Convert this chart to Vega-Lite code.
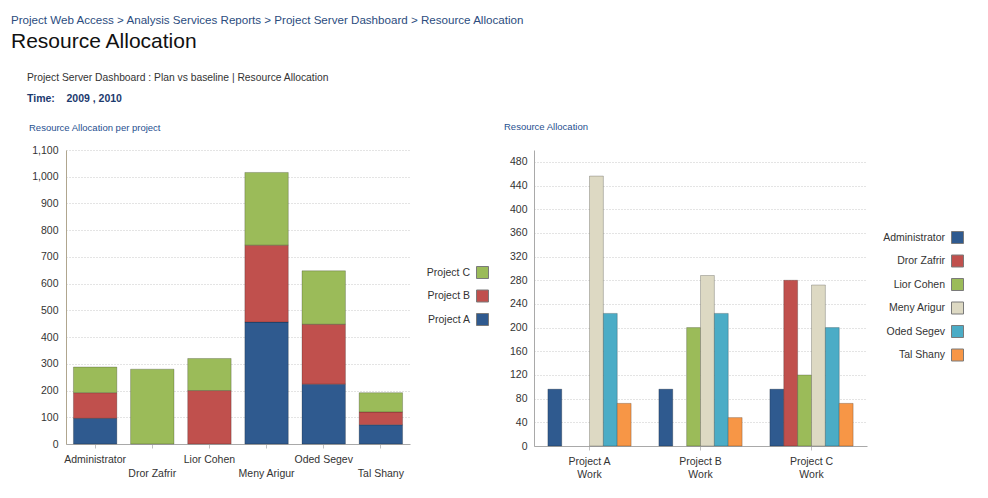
{
  "$schema": "https://vega.github.io/schema/vega-lite/v6.json",
  "background": "white",
  "padding": {"left": 11, "top": 15, "right": 5, "bottom": 5},
  "datasets": {
    "alloc": [
      {"resource": "Administrator", "project": "Project A", "hours": 96},
      {"resource": "Administrator", "project": "Project B", "hours": 96},
      {"resource": "Administrator", "project": "Project C", "hours": 96},
      {"resource": "Dror Zafrir", "project": "Project A", "hours": 0},
      {"resource": "Dror Zafrir", "project": "Project B", "hours": 0},
      {"resource": "Dror Zafrir", "project": "Project C", "hours": 280},
      {"resource": "Lior Cohen", "project": "Project A", "hours": 0},
      {"resource": "Lior Cohen", "project": "Project B", "hours": 200},
      {"resource": "Lior Cohen", "project": "Project C", "hours": 120},
      {"resource": "Meny Arigur", "project": "Project A", "hours": 456},
      {"resource": "Meny Arigur", "project": "Project B", "hours": 288},
      {"resource": "Meny Arigur", "project": "Project C", "hours": 272},
      {"resource": "Oded Segev", "project": "Project A", "hours": 224},
      {"resource": "Oded Segev", "project": "Project B", "hours": 224},
      {"resource": "Oded Segev", "project": "Project C", "hours": 200},
      {"resource": "Tal Shany", "project": "Project A", "hours": 72},
      {"resource": "Tal Shany", "project": "Project B", "hours": 48},
      {"resource": "Tal Shany", "project": "Project C", "hours": 72}
    ]
  },
  "title": {
    "text": "Project Web Access > Analysis Services Reports > Project Server Dashboard > Resource Allocation",
    "subtitle": "Resource Allocation",
    "anchor": "start",
    "frame": "bounds",
    "font": "Liberation Sans",
    "fontSize": 11.6,
    "fontWeight": "normal",
    "color": "#2b4c7e",
    "subtitleFont": "Liberation Sans",
    "subtitleFontSize": 21,
    "subtitleColor": "#111111",
    "subtitlePadding": 4,
    "offset": 21
  },
  "config": {
    "view": {"stroke": null},
    "font": "Liberation Sans",
    "axis": {
      "labelFont": "Liberation Sans",
      "labelFontSize": 10.5,
      "labelColor": "#333333",
      "title": null,
      "gridColor": "#c8c8c8",
      "gridDash": [1, 2],
      "domainColor": "#a9a9a9",
      "tickColor": "#c0c0c0"
    },
    "legend": {
      "labelFont": "Liberation Sans",
      "labelFontSize": 10.5,
      "labelColor": "#333333"
    }
  },
  "vconcat": [
    {
      "title": {
        "text": "Project Server Dashboard :  Plan vs baseline | Resource Allocation",
        "subtitle": "Time:\u00a0\u00a0\u00a0\u00a02009 , 2010",
        "anchor": "start",
        "frame": "bounds",
        "dx": 16,
        "font": "Liberation Sans",
        "fontSize": 10.3,
        "fontWeight": "normal",
        "color": "#333333",
        "subtitleFont": "Liberation Sans",
        "subtitleFontSize": 10.5,
        "subtitleFontWeight": "bold",
        "subtitleColor": "#1c3a6e",
        "subtitlePadding": 11,
        "offset": 17
      },
      "spacing": 13,
      "resolve": {"scale": {"color": "independent"}, "legend": {"color": "independent"}},
      "hconcat": [
        {
          "width": 344,
          "height": 294,
          "title": {
            "text": "Resource Allocation per project",
            "anchor": "start",
            "frame": "bounds",
            "dx": 18,
            "font": "Liberation Sans",
            "fontSize": 9.5,
            "fontWeight": "normal",
            "color": "#1f4f8f",
            "offset": 13
          },
          "data": {"name": "alloc"},
          "transform": [{"filter": "datum.hours > 0"}],
          "mark": {"type": "bar", "stroke": "#000000", "strokeOpacity": 0.22, "strokeWidth": 1},
          "encoding": {
            "x": {
              "field": "resource",
              "type": "nominal",
              "scale": {"paddingInner": 0.24, "paddingOuter": 0.13},
              "axis": {
                "labelAngle": 0,
                "labelOverlap": false,
                "labelBound": false,
                "labelLineHeight": 14,
                "labelPadding": 6,
                "tickSize": 4,
                "labelExpr": "indexof(['Dror Zafrir','Meny Arigur','Tal Shany'], datum.value) >= 0 ? ['', datum.value] : datum.value"
              }
            },
            "y": {
              "field": "hours",
              "type": "quantitative",
              "stack": "zero",
              "scale": {"domain": [0, 1100]},
              "axis": {
                "values": [0, 100, 200, 300, 400, 500, 600, 700, 800, 900, 1000, 1100],
                "format": ",d",
                "ticks": false,
                "labelPadding": 8,
                "minExtent": 55,
                "domainColor": "#b0a68f"
              }
            },
            "color": {
              "field": "project",
              "type": "nominal",
              "scale": {
                "domain": ["Project C", "Project B", "Project A"],
                "range": ["#9bbb59", "#c0504d", "#2f5a8f"]
              },
              "legend": {
                "title": null,
                "orient": "none",
                "legendX": 410,
                "legendY": 116,
                "symbolType": "square",
                "symbolSize": 144,
                "symbolStrokeWidth": 1,
                "symbolStrokeColor": "#7a7a7a",
                "labelAlign": "right",
                "labelOffset": -19,
                "rowPadding": 6.5
              }
            },
            "order": {"field": "project", "sort": "ascending"}
          }
        },
        {
          "width": 333,
          "height": 296,
          "title": {
            "text": "Resource Allocation",
            "anchor": "start",
            "frame": "bounds",
            "font": "Liberation Sans",
            "fontSize": 9.5,
            "fontWeight": "normal",
            "color": "#1f4f8f",
            "offset": 19
          },
          "data": {"name": "alloc"},
          "transform": [{"filter": "datum.hours > 0"}],
          "mark": {"type": "bar", "stroke": "#000000", "strokeOpacity": 0.22, "strokeWidth": 1},
          "encoding": {
            "x": {
              "field": "project",
              "type": "nominal",
              "scale": {"paddingInner": 0.25, "paddingOuter": 0.125},
              "axis": {
                "labelAngle": 0,
                "labelOverlap": false,
                "labelBound": false,
                "labelLineHeight": 13,
                "labelPadding": 6,
                "tickSize": 4,
                "labelExpr": "[datum.value, 'Work']"
              }
            },
            "xOffset": {
              "field": "resource",
              "type": "nominal",
              "scale": {
                "domain": ["Administrator", "Dror Zafrir", "Lior Cohen", "Meny Arigur", "Oded Segev", "Tal Shany"],
                "paddingInner": 0,
                "paddingOuter": 0
              }
            },
            "y": {
              "field": "hours",
              "type": "quantitative",
              "scale": {"domain": [0, 500]},
              "axis": {
                "values": [0, 40, 80, 120, 160, 200, 240, 280, 320, 360, 400, 440, 480],
                "ticks": false,
                "labelPadding": 7,
                "minExtent": 30
              }
            },
            "color": {
              "field": "resource",
              "type": "nominal",
              "scale": {
                "domain": ["Administrator", "Dror Zafrir", "Lior Cohen", "Meny Arigur", "Oded Segev", "Tal Shany"],
                "range": ["#2f5a8f", "#c0504d", "#9bbb59", "#ddd9c3", "#4bacc6", "#f79646"]
              },
              "legend": {
                "title": null,
                "orient": "none",
                "legendX": 417,
                "legendY": 81,
                "symbolType": "square",
                "symbolSize": 144,
                "symbolStrokeWidth": 1,
                "symbolStrokeColor": "#7a7a7a",
                "labelAlign": "right",
                "labelOffset": -19,
                "rowPadding": 6.5
              }
            }
          }
        }
      ]
    }
  ]
}
